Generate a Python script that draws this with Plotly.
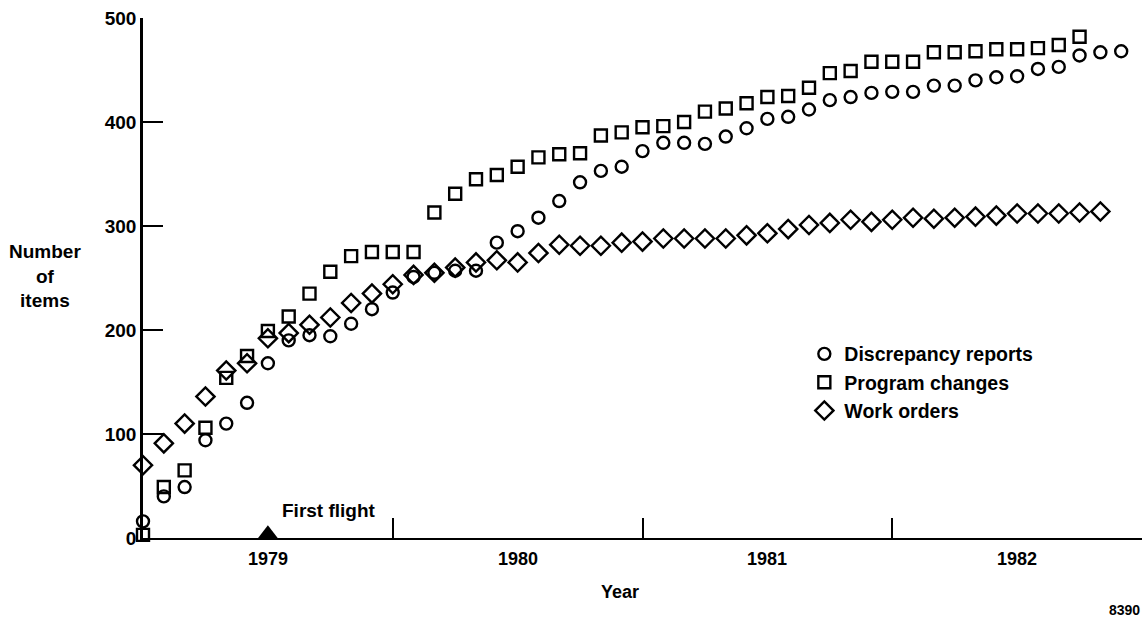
import plotly.graph_objects as go

# ---- data ----
# monthly samples starting mid-1978 (month 0 = left edge of the axis)
discrepancy_reports = [16, 40, 49, 94, 110, 130, 168, 190, 195, 194, 206, 220,
                       236, 251, 255, 257, 257, 284, 295, 308, 324, 342, 353, 357,
                       372, 380, 380, 379, 386, 394, 403, 405, 412, 421, 424, 428,
                       429, 429, 435, 435, 440, 443, 444, 451, 453, 464, 467, 468]
program_changes = [3, 49, 65, 106, 154, 175, 199, 213, 235, 256, 271, 275,
                   275, 275, 313, 331, 345, 349, 357, 366, 369, 370, 387, 390,
                   395, 396, 400, 410, 413, 418, 424, 425, 433, 447, 449, 458,
                   458, 458, 467, 467, 468, 470, 470, 471, 474, 482]
work_orders = [70, 91, 110, 136, 161, 168, 192, 197, 205, 212, 226, 235,
               244, 253, 255, 260, 265, 267, 265, 274, 282, 281, 281, 284,
               285, 288, 288, 288, 288, 291, 293, 297, 301, 303, 306, 304,
               306, 308, 307, 308, 309, 310, 312, 312, 312, 313, 314]

year_labels = ["1979", "1980", "1981", "1982"]
year_label_months = [6, 18, 30, 42]
year_boundary_months = [12, 24, 36, 48]
first_flight_month = 6
y_ticks = [0, 100, 200, 300, 400, 500]

FONT = "Liberation Sans, Arial, sans-serif"
BLACK = "#000000"

fig = go.Figure()

def add_series(vals, name, symbol, size):
    fig.add_trace(go.Scatter(
        x=list(range(len(vals))), y=vals, mode="markers", name=name,
        cliponaxis=False,
        marker=dict(symbol=symbol, size=size, color=BLACK,
                    line=dict(color=BLACK, width=2.4)),
    ))

add_series(discrepancy_reports, "Discrepancy reports", "circle-open", 12)
add_series(program_changes, "Program changes", "square-open", 12)
add_series(work_orders, "Work orders", "diamond-open", 14)

# first flight marker
fig.add_trace(go.Scatter(
    x=[first_flight_month], y=[4], mode="markers", showlegend=False,
    cliponaxis=False,
    marker=dict(symbol="triangle-up", size=17, color=BLACK),
))

def f(size):
    return dict(size=size, family=FONT, weight="bold", color=BLACK)

annotations = []
for lab, m in zip(year_labels, year_label_months):
    annotations.append(dict(x=m, y=0, xref="x", yref="y", text=lab,
                            showarrow=False, xanchor="center", yanchor="middle",
                            yshift=-21, font=f(18)))
annotations += [
    dict(x=first_flight_month, y=0, xref="x", yref="y", text="First flight",
         showarrow=False, xanchor="left", yanchor="middle", xshift=12, yshift=28,
         font=f(19)),
    dict(x=0.4775, y=0, xref="paper", yref="paper", text="Year", showarrow=False,
         xanchor="center", yanchor="middle", yshift=-54, font=f(18)),
    dict(x=1.0, y=0, xref="paper", yref="paper", text="8390", showarrow=False,
         xanchor="right", yanchor="middle", yshift=-72, font=f(14)),
    dict(x=-0.098, y=0.504, xref="paper", yref="paper",
         text="Number<br>of<br>items", showarrow=False, align="center",
         xanchor="center", yanchor="middle", font=f(19)),
]

fig.update_layout(
    width=1144, height=617,
    margin=dict(l=143, r=2, t=18, b=79),
    paper_bgcolor="white", plot_bgcolor="white",
    font=dict(family=FONT, size=18, color=BLACK, weight="bold"),
    showlegend=True,
    legend=dict(x=0.662, y=0.391, xanchor="left", yanchor="top",
                bgcolor="rgba(0,0,0,0)", borderwidth=0,
                font=f(19.5), itemsizing="trace", tracegroupgap=0),
    annotations=annotations,
)
fig.update_xaxes(range=[0, 48], showgrid=False, zeroline=False,
                 showline=True, linecolor=BLACK, linewidth=2,
                 ticks="inside", ticklen=20, tickwidth=2, tickcolor=BLACK,
                 tickvals=year_boundary_months, showticklabels=False)
fig.update_yaxes(range=[0, 500], showgrid=False, zeroline=False,
                 showline=True, linecolor=BLACK, linewidth=2.5,
                 ticks="inside", ticklen=20, tickwidth=2, tickcolor=BLACK,
                 tickvals=y_ticks, ticktext=[str(v) for v in y_ticks],
                 tickfont=f(19))

fig.write_html("out.html")
